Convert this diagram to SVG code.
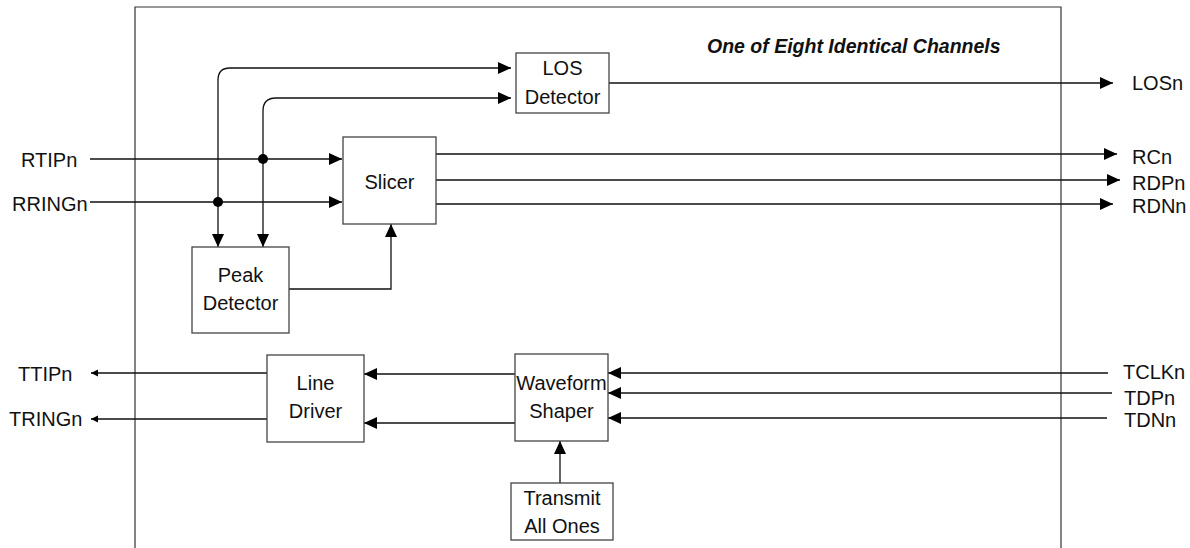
<svg xmlns="http://www.w3.org/2000/svg" width="1190" height="548" viewBox="0 0 1190 548">
<style>
.box{fill:#fff;stroke:#444;stroke-width:1.3}
.frame{fill:none;stroke:#333;stroke-width:1.2}
.c{fill:none;stroke:#111;stroke-width:1.3}
.t{font-family:"Liberation Sans",Arial,sans-serif;font-size:20px;fill:#111}
.m{text-anchor:middle}
.title{font-family:"Liberation Sans",Arial,sans-serif;font-size:19.5px;font-weight:bold;font-style:italic;fill:#111}
.dot{fill:#000}
</style>
<defs>
<marker id="a" markerUnits="userSpaceOnUse" markerWidth="15" markerHeight="14" refX="13" refY="6" orient="auto"><path d="M0,0 L13,6 L0,12 z" fill="#000"/></marker>
<marker id="s" markerUnits="userSpaceOnUse" markerWidth="8" markerHeight="8" refX="7" refY="3.5" orient="auto"><path d="M0,0 L7,3.5 L0,7 z" fill="#000"/></marker>
</defs>
<rect width="1190" height="548" fill="#fff"/>
<g id="frame"><path class="frame" d="M135,560 V7 H1061 V560"/></g>
<text class="title" x="707" y="53">One of Eight Identical Channels</text>

<g id="connectors">
<path class="c" d="M90,159 H342" marker-end="url(#a)"/>
<path class="c" d="M90,202 H342" marker-end="url(#a)"/>
<path class="c" d="M218,202 V80 Q218,68 230,68 H511" marker-end="url(#a)"/>
<path class="c" d="M218,202 V247" marker-end="url(#a)"/>
<path class="c" d="M263,159 V111 Q263,98 276,98 H511" marker-end="url(#a)"/>
<path class="c" d="M263,159 V247" marker-end="url(#a)"/>
<circle class="dot" cx="263" cy="159" r="5"/>
<circle class="dot" cx="218" cy="202" r="5"/>
<path class="c" d="M609,83 H1113" marker-end="url(#a)"/>
<path class="c" d="M436,154 H1117" marker-end="url(#a)"/>
<path class="c" d="M436,180 H1120" marker-end="url(#a)"/>
<path class="c" d="M436,204 H1113" marker-end="url(#a)"/>
<path class="c" d="M289,289 H391 V224" marker-end="url(#a)"/>
<path class="c" d="M515,374 H364" marker-end="url(#a)"/>
<path class="c" d="M515,423 H364" marker-end="url(#a)"/>
<path class="c" d="M267,373 H91" marker-end="url(#s)"/>
<path class="c" d="M267,419 H91" marker-end="url(#s)"/>
<path class="c" d="M1108,373 H608" marker-end="url(#a)"/>
<path class="c" d="M1112,393 H608" marker-end="url(#a)"/>
<path class="c" d="M1107,418 H608" marker-end="url(#a)"/>
<path class="c" d="M560,483 V441" marker-end="url(#a)"/>
</g>

<g id="los-detector"><rect class="box" x="516" y="53" width="93" height="60"/><text class="t m" x="562.5" y="75">LOS</text><text class="t m" x="562.5" y="104">Detector</text></g>
<g id="slicer"><rect class="box" x="343" y="137" width="93" height="87"/><text class="t m" x="389.5" y="189">Slicer</text></g>
<g id="peak-detector"><rect class="box" x="192" y="247" width="97" height="86"/><text class="t m" x="240.5" y="282">Peak</text><text class="t m" x="240.5" y="310">Detector</text></g>
<g id="line-driver"><rect class="box" x="267" y="355" width="97" height="87"/><text class="t m" x="315.5" y="390">Line</text><text class="t m" x="315.5" y="418">Driver</text></g>
<g id="waveform-shaper"><rect class="box" x="515" y="354" width="93" height="87"/><text class="t m" x="561.5" y="390">Waveform</text><text class="t m" x="561.5" y="418">Shaper</text></g>
<g id="transmit-all-ones"><rect class="box" x="511" y="483" width="102" height="57"/><text class="t m" x="562" y="505">Transmit</text><text class="t m" x="562" y="533">All Ones</text></g>

<g id="labels">
<text class="t" x="21" y="167">RTIPn</text>
<text class="t" x="12" y="211">RRINGn</text>
<text class="t" x="18" y="381">TTIPn</text>
<text class="t" x="9" y="426">TRINGn</text>
<text class="t" x="1132" y="90">LOSn</text>
<text class="t" x="1132" y="164">RCn</text>
<text class="t" x="1132" y="190">RDPn</text>
<text class="t" x="1132" y="213">RDNn</text>
<text class="t" x="1123" y="379">TCLKn</text>
<text class="t" x="1124" y="405">TDPn</text>
<text class="t" x="1124" y="427">TDNn</text>
</g>
</svg>
